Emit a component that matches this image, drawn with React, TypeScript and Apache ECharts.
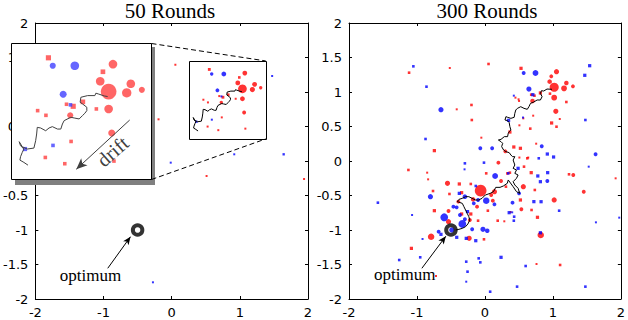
import React, { useEffect, useRef } from 'react';
import * as echarts from 'echarts';

// ---------- data ----------
const TITLES = ['50 Rounds', '300 Rounds'];
const OPTIMUM = [[-0.5, -1]];
const INSET_X = [0.25, 1.38];
const INSET_Y = [0.32, 1.45];

// [x, y, weight]
const RED_50 = [
  [0.552, 1.327, 2.2], [1.073, 1.274, 3.7], [0.992, 1.211, 2], [0.970, 1.132, 3.7], [1.038, 1.046, 6.7],
  [1.217, 1.111, 3.7], [1.184, 1.036, 4], [1.306, 1.061, 2.6], [1.038, 0.902, 3.7], [0.830, 0.961, 2],
  [0.752, 0.924, 2.2], [0.698, 0.941, 1.5], [0.939, 0.902, 1.5], [0.728, 0.849, 2.6], [0.465, 0.888, 1.5],
  [0.532, 0.849, 1.3], [1.063, 0.702, 3], [0.735, 0.632, 1.5], [0.527, 0.499, 1.3], [0.684, 0.447, 1.3],
  [1.081, 0.469, 1.3], [0.054, 1.395, 1.5], [-0.193, 0.604, 1.2], [0.512, -0.217, 1], [1.942, -0.261, 1.5],
];
const BLUE_50 = [
  [0.587, 1.261, 2.6], [0.765, 1.261, 3.7], [0.671, 1.024, 3], [0.730, 0.936, 1.5], [0.589, 0.599, 1.5],
  [0.363, 0.569, 1.8], [1.474, 1.232, 1.5], [0.918, 0.097, 1.5], [1.643, 0.097, 1.8], [-0.014, -0.024, 1.2],
  [-0.275, -1.758, 1],
];
const PATH_50 = [
  [0.387, 0.435], [0.354, 0.458], [0.322, 0.477], [0.327, 0.505], [0.341, 0.541], [0.354, 0.569],
  [0.327, 0.597], [0.316, 0.630], [0.341, 0.588], [0.381, 0.569], [0.435, 0.577], [0.449, 0.638],
  [0.457, 0.694], [0.462, 0.749], [0.489, 0.744], [0.530, 0.721], [0.557, 0.744], [0.584, 0.755],
  [0.625, 0.735], [0.652, 0.735], [0.665, 0.777], [0.679, 0.805], [0.733, 0.833], [0.760, 0.827],
  [0.800, 0.819], [0.827, 0.847], [0.846, 0.866], [0.862, 0.888], [0.862, 0.916], [0.827, 0.944],
  [0.808, 0.958], [0.814, 0.999], [0.868, 1.013], [0.927, 1.013], [0.935, 1.033], [0.954, 1.027],
  [1.003, 1.010], [1.030, 1.005],
];

const RED_300 = [
  [-1.116, 1.280, 2], [-0.517, 1.348, 1.5], [0.053, 1.406, 2], [0.531, 1.343, 2.5], [1.053, 1.295, 4],
  [0.976, 1.227, 3], [0.952, 1.150, 3.5], [1.198, 1.130, 3.5], [1.295, 1.082, 3], [1.019, 1.068, 7],
  [1.164, 1.053, 4.5], [1.019, 0.918, 4.5], [1.198, 0.855, 2], [0.681, 0.961, 2], [0.729, 0.947, 2],
  [0.816, 0.986, 2.5], [0.957, 0.976, 2], [0.449, 0.918, 1.5], [0.495, 0.894, 1.5], [0.502, 0.870, 1.5],
  [0.700, 0.870, 3.5], [1.043, 0.720, 4], [1.101, 0.609, 1.5], [0.981, 0.551, 2.5], [1.053, 0.497, 2],
  [-0.415, 0.749, 1.5], [-0.198, 0.812, 2], [-0.193, 0.594, 2], [0.565, 0.618, 1.5], [0.710, 0.657, 1.5],
  [0.507, 0.517, 1.5], [0.667, 0.469, 2], [0.367, 0.420, 2.5], [-0.053, 0.338, 1.5], [-0.744, 0.150, 2.5],
  [0.425, 0.203, 2.5], [0.522, 0.184, 2.5], [0.754, 0.251, 1.5], [0.300, 0.140, 3], [0.507, 0.050, 1.5],
  [0.637, 0.050, 1.5], [0.198, -0.024, 3], [0.623, 0.039, 2], [-1.126, -0.130, 2], [-0.850, -0.169, 1.5],
  [-0.836, -0.266, 1.5], [-0.551, -0.324, 4], [-0.377, -0.333, 2.5], [-0.208, -0.333, 2], [0.019, -0.179, 2],
  [0.237, -0.290, 3], [-0.063, -0.430, 9], [-0.522, -0.478, 2], [-0.343, -0.459, 2.5], [-0.174, -0.556, 3.5],
  [0.140, -0.444, 4], [0.092, -0.493, 3], [0.116, -0.575, 3], [-0.116, -0.662, 3], [0.043, -0.720, 2],
  [-0.208, -0.768, 2.5], [-0.343, -0.768, 2.5], [-0.744, -0.720, 2.5], [-0.391, -0.589, 3], [-0.536, -0.725, 3],
  [-0.536, -0.879, 4], [-0.222, -0.855, 3], [-0.101, -0.865, 2], [-0.232, -1.121, 4], [-0.014, -1.135, 2],
  [-0.792, -1.097, 5], [0.188, -0.865, 2], [0.377, -0.739, 1.5], [0.285, -0.874, 1.5], [0.536, -0.700, 3],
  [0.686, -0.710, 2], [0.565, -0.372, 4], [0.734, -0.420, 2], [-0.764, -0.435, 2], [0.367, -0.169, 2],
  [0.575, -0.082, 2], [0.681, -0.169, 2.5], [1.237, -0.193, 2], [1.300, -0.203, 3], [1.923, -0.251, 1.5],
  [0.522, -0.565, 2.5], [1.019, -0.565, 4], [1.454, -0.445, 3], [0.773, -0.816, 2.5], [0.821, -1.072, 5],
  [1.106, -1.507, 2], [0.759, -1.493, 1.5], [-1.082, -1.266, 2.5], [-0.720, -1.667, 1.5], [0.309, -0.372, 2],
  [0.330, -0.180, 2],
];
const BLUE_300 = [
  [-1.053, 1.372, 2], [0.570, 1.275, 3], [0.744, 1.275, 4.5], [0.647, 1.043, 4], [0.705, 0.961, 2.5],
  [0.425, 0.947, 1.5], [1.478, 0.594, 2], [1.469, 1.242, 2.5], [1.541, 1.381, 2.5], [-0.860, 1.077, 2],
  [-0.647, 0.744, 4], [0.560, 0.630, 1.5], [0.348, 0.589, 2.5], [-0.874, 0.319, 2], [-0.068, 0.184, 3],
  [0.106, 0.184, 3], [0.836, 0.213, 3], [0.918, 0.101, 2.5], [1.010, 0.058, 2.5], [1.628, 0.097, 3],
  [0.792, 0.039, 2], [-0.295, -0.034, 2], [-0.014, -0.024, 2], [-0.300, -0.121, 1.5], [0.150, -0.217, 4.5],
  [-0.135, -0.362, 2], [-0.802, -0.517, 4], [-0.377, -0.469, 2.5], [-0.295, -0.517, 3.5], [-0.101, -0.565, 3],
  [0.019, -0.575, 5], [0.140, -0.628, 3], [-0.164, -0.614, 3], [-0.256, -0.734, 2.5], [-0.464, -0.662, 3],
  [-0.416, -0.672, 3], [-0.599, -0.816, 6], [-0.367, -0.783, 3], [-0.295, -0.845, 3], [-0.333, -0.913, 6],
  [-0.188, -0.990, 3], [-0.029, -0.990, 4], [0.034, -1.010, 3.5], [-0.488, -1.000, 4], [-0.275, -1.121, 2.5],
  [-0.135, -1.155, 2.5], [-0.681, -1.024, 3], [-0.647, -1.063, 2.5], [-0.415, -1.106, 2.5], [0.357, -0.749, 2.5],
  [0.406, -0.604, 3], [0.430, -0.807, 2], [0.720, -0.589, 2.5], [0.502, -0.469, 3], [0.488, -0.106, 2.5],
  [0.778, -0.217, 2.5], [0.923, -0.169, 2.5], [0.816, -0.300, 2.5], [0.918, -0.290, 3], [0.826, -0.590, 2.5],
  [0.401, -0.744, 1.5], [0.425, -0.865, 2], [0.816, -1.040, 2.5], [1.092, -0.720, 2], [1.633, -0.889, 1.5],
  [1.527, -0.082, 1.5], [1.976, -0.821, 1.5], [0.599, -1.522, 2], [0.237, -1.396, 2.5], [-0.068, -1.469, 2],
  [-0.092, -1.411, 2], [-0.275, -1.459, 2], [-0.256, -1.604, 2], [-0.275, -1.749, 1.5], [0.077, -1.894, 2],
  [0.473, -1.821, 2], [1.478, -1.821, 2], [-0.952, -1.396, 2], [-1.261, -1.435, 2], [-0.918, -1.130, 1.5],
  [-1.575, -0.604, 2], [-1.072, -0.783, 1.5], [0.343, -0.179, 2],
];
const PATH_300 = [
  [0.986, 1.039], [0.913, 1.043], [0.865, 1.014], [0.831, 1.019], [0.816, 0.980], [0.841, 0.932],
  [0.816, 0.884], [0.768, 0.884], [0.710, 0.850], [0.671, 0.836], [0.647, 0.787], [0.623, 0.749],
  [0.575, 0.763], [0.527, 0.787], [0.478, 0.763], [0.454, 0.739], [0.440, 0.691], [0.430, 0.633],
  [0.382, 0.618], [0.333, 0.633], [0.309, 0.643], [0.295, 0.594], [0.333, 0.585], [0.357, 0.556],
  [0.367, 0.498], [0.382, 0.449], [0.357, 0.425], [0.343, 0.401], [0.333, 0.353], [0.285, 0.353],
  [0.237, 0.314], [0.198, 0.304], [0.237, 0.280], [0.261, 0.256], [0.246, 0.208], [0.275, 0.159],
  [0.309, 0.135], [0.357, 0.121], [0.382, 0.087], [0.406, 0.063], [0.440, 0.063], [0.415, 0.014],
  [0.440, -0.058], [0.415, -0.106], [0.464, -0.130], [0.440, -0.179], [0.488, -0.203], [0.464, -0.251],
  [0.415, -0.300], [0.440, -0.348], [0.488, -0.396], [0.512, -0.469], [0.464, -0.444], [0.415, -0.372],
  [0.343, -0.275], [0.329, -0.324], [0.271, -0.362], [0.222, -0.382], [0.159, -0.382], [0.126, -0.444],
  [0.077, -0.469], [0.005, -0.493], [-0.043, -0.541], [-0.092, -0.565], [-0.140, -0.565], [-0.188, -0.541],
  [-0.237, -0.517], [-0.285, -0.517], [-0.333, -0.541], [-0.382, -0.556], [-0.406, -0.589], [-0.333, -0.614],
  [-0.309, -0.662], [-0.285, -0.710], [-0.261, -0.758], [-0.237, -0.807], [-0.222, -0.855], [-0.251, -0.913],
  [-0.285, -0.952], [-0.333, -0.976], [-0.382, -0.990], [-0.430, -1.000],
];

// annotation anchors (data coordinates)
const OPT_ARROW = [
  [[-0.938, -1.555], [-0.604, -1.097]],
  [[-0.928, -1.555], [-0.575, -1.090]],
];
const OPT_LABEL = [[-1.19, -1.665], [-1.18, -1.64]];
const DRIFT_ARROW = [[1.208, 0.810], [0.777, 0.401]];
const DRIFT_LABEL = [1.07, 0.55];

// ---------- layout / style ----------
const GRIDS = [
  { left: 32, top: 23, width: 276, height: 276 },
  { left: 349, top: 23, width: 276, height: 276 },
];
const INSET = { left: 11, top: 43, width: 140, height: 136 };
const SANS = 'DejaVu Sans';
const SERIF = 'Liberation Serif';
const MARK_SCALE = 1.3;

const inInset = (p: number[]) =>
  p[0] >= INSET_X[0] && p[0] <= INSET_X[1] && p[1] >= INSET_Y[0] && p[1] <= INSET_Y[1];

const sym = (v: number[]) => (v[2] < 2.6 ? 'rect' : 'circle');
const sizeFn = (k: number) => (v: number[]) => Math.max(v[2] * MARK_SCALE, 2) * k;

function axesFor(gi: number) {
  const common = {
    type: 'value',
    gridIndex: gi,
    min: -2,
    max: 2,
    splitLine: { show: false },
    axisLine: { show: true, onZero: false, lineStyle: { color: '#000', width: 1 } },
    axisTick: { show: true, inside: true, length: 3, lineStyle: { color: '#000', width: 1 } },
  };
  const label = { show: true, color: '#000', fontFamily: SANS, fontSize: 13 };
  return {
    x: [
      { ...common, position: 'bottom', interval: 1, axisLabel: { ...label, margin: 7 } },
      { ...common, position: 'top', interval: 1, axisLabel: { show: false } },
    ],
    y: [
      { ...common, position: 'left', interval: 0.5, axisLabel: { ...label, margin: 7 } },
      { ...common, position: 'right', interval: 0.5, axisLabel: { show: false } },
    ],
  };
}

function buildOption() {
  const a0 = axesFor(0);
  const a1 = axesFor(1);
  const insetAxisX = { type: 'value', gridIndex: 2, min: INSET_X[0], max: INSET_X[1], show: false };
  const insetAxisY = { type: 'value', gridIndex: 2, min: INSET_Y[0], max: INSET_Y[1], show: false };
  const kInset = INSET.width / ((INSET_X[1] - INSET_X[0]) * 69);

  const plotSeries = (gi: number, red: number[][], blue: number[][], path: number[][]) => {
    const xi = gi * 2;
    const yi = gi * 2;
    return [
      {
        type: 'scatter', xAxisIndex: xi, yAxisIndex: yi, data: red, symbol: sym, symbolSize: sizeFn(1),
        itemStyle: { color: '#ff0000' }, z: 2, silent: true,
      },
      {
        type: 'scatter', xAxisIndex: xi, yAxisIndex: yi, data: blue, symbol: sym, symbolSize: sizeFn(1),
        itemStyle: { color: '#0000ff' }, z: 2, silent: true,
      },
      {
        type: 'line', xAxisIndex: xi, yAxisIndex: yi, data: path, showSymbol: false, symbol: 'none',
        lineStyle: { color: '#000', width: 1 }, z: 3, silent: true,
      },
      {
        type: 'scatter', xAxisIndex: xi, yAxisIndex: yi, data: OPTIMUM, symbol: 'circle', symbolSize: 9.5,
        itemStyle: { color: 'rgba(0,0,0,0)', borderColor: '#000', borderWidth: 4 }, z: 4, silent: true,
        markLine: {
          silent: true, z: 4, symbol: ['none', 'arrow'], symbolSize: [5, 8],
          lineStyle: { color: '#000', width: 1, type: 'solid' }, label: { show: false },
          data: [[{ coord: OPT_ARROW[gi][0] }, { coord: OPT_ARROW[gi][1] }]],
        },
      },
    ];
  };

  return {
    animation: false,
    backgroundColor: '#fff',
    title: TITLES.map((t, i) => ({
      text: t,
      left: GRIDS[i].left + GRIDS[i].width / 2,
      top: 0,
      textAlign: 'center',
      padding: 0,
      textStyle: { fontFamily: SERIF, fontSize: 21, fontWeight: 'normal', color: '#000' },
    })),
    grid: [
      { ...GRIDS[0], containLabel: false },
      { ...GRIDS[1], containLabel: false },
      { ...INSET, containLabel: false },
    ],
    xAxis: [...a0.x, ...a1.x, insetAxisX],
    yAxis: [...a0.y, ...a1.y, insetAxisY],
    series: [
      ...plotSeries(0, RED_50, BLUE_50, PATH_50),
      ...plotSeries(1, RED_300, BLUE_300, PATH_300),
      {
        type: 'scatter', xAxisIndex: 4, yAxisIndex: 4, data: RED_50.filter(inInset), symbol: sym,
        symbolSize: sizeFn(kInset), itemStyle: { color: '#ff4040' }, z: 12, clip: true, silent: true,
      },
      {
        type: 'scatter', xAxisIndex: 4, yAxisIndex: 4, data: BLUE_50.filter(inInset), symbol: sym,
        symbolSize: sizeFn(kInset), itemStyle: { color: '#4040ff' }, z: 12, clip: true, silent: true,
      },
      {
        type: 'line', xAxisIndex: 4, yAxisIndex: 4, data: PATH_50, showSymbol: false, symbol: 'none',
        lineStyle: { color: '#404040', width: 1 }, z: 13, clip: true, silent: true,
        markLine: {
          silent: true, z: 13, symbol: ['none', 'arrow'], symbolSize: [7, 11],
          lineStyle: { color: '#404040', width: 1, type: 'solid' }, label: { show: false },
          data: [[{ coord: DRIFT_ARROW[0] }, { coord: DRIFT_ARROW[1] }]],
        },
      },
    ],
  };
}

function buildGraphic(chart: any) {
  const px = (gi: number, p: number[]) => chart.convertToPixel({ gridIndex: gi }, p) as number[];
  const tl = px(0, [INSET_X[0], INSET_Y[1]]);
  const br = px(0, [INSET_X[1], INSET_Y[0]]);
  const insetRight = INSET.left + INSET.width;
  const insetBottom = INSET.top + INSET.height;
  const elements: any[] = [];

  OPT_LABEL.forEach((p, i) => {
    const q = px(i, p);
    elements.push({
      type: 'text', x: q[0], y: q[1], z: 20, silent: true,
      style: {
        text: 'optimum', fontFamily: SERIF, fontSize: 17,
        fill: '#000', align: 'center', verticalAlign: 'middle',
      },
    });
  });

  elements.push(
    {
      type: 'rect', z: 10, silent: true,
      shape: { x: INSET.left + 4, y: INSET.top + 4, width: INSET.width, height: INSET.height + 2 },
      style: { fill: '#808080' },
    },
    {
      type: 'rect', z: 11, silent: true,
      shape: { x: INSET.left + 0.5, y: INSET.top + 0.5, width: INSET.width, height: INSET.height },
      style: { fill: '#fff', stroke: '#000', lineWidth: 1 },
    },
    {
      type: 'rect', z: 5, silent: true,
      shape: { x: Math.round(tl[0]) + 0.5, y: Math.round(tl[1]) + 0.5, width: Math.round(br[0] - tl[0]), height: Math.round(br[1] - tl[1]) },
      style: { fill: 'none', stroke: '#000', lineWidth: 1 },
    },
    {
      type: 'line', z: 11, silent: true,
      shape: { x1: insetRight + 0.5, y1: INSET.top + 0.5, x2: br[0], y2: tl[1] },
      style: { stroke: '#000', lineWidth: 1, lineDash: [5, 3] },
    },
    {
      type: 'line', z: 11, silent: true,
      shape: { x1: insetRight + 0.5, y1: insetBottom + 0.5, x2: br[0], y2: br[1] },
      style: { stroke: '#000', lineWidth: 1, lineDash: [5, 3] },
    },
  );

  const d = px(2, DRIFT_LABEL);
  elements.push({
    type: 'text', x: d[0], y: d[1], rotation: 0.72, z: 20, silent: true,
    style: { text: 'drift', fontFamily: SERIF, fontSize: 20, fill: '#404040', align: 'center', verticalAlign: 'middle' },
  });

  return elements;
}

export default function App() {
  const ref = useRef<HTMLDivElement>(null);
  useEffect(() => {
    if (!ref.current) return;
    const chart = echarts.init(ref.current, null, { renderer: 'svg' });
    chart.setOption(buildOption() as any);
    chart.setOption({ graphic: buildGraphic(chart) } as any);
    return () => chart.dispose();
  }, []);
  return (
    <div
      ref={ref}
      style={{ position: 'fixed', left: 0, top: 0, width: 628, height: 320, background: '#fff' }}
    />
  );
}
